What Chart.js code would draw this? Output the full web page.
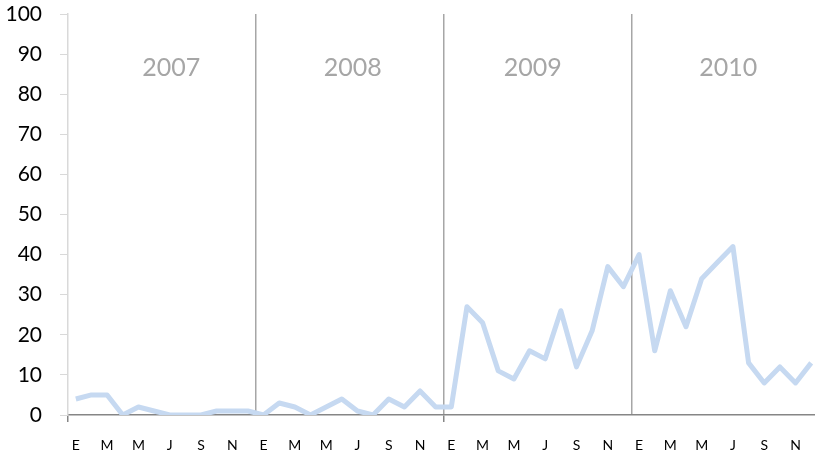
<!DOCTYPE html>
<html>
<head>
<meta charset="utf-8">
<script src="https://cdn.jsdelivr.net/npm/chart.js@4"></script>
<style>
  body { margin: 0; overflow: hidden; background: #fff; }
  canvas { display: block; }
</style>
</head>
<body>
<canvas id="chart" width="819" height="460"></canvas>
<script>
const years = ['2007', '2008', '2009', '2010'];
const months = ['E', 'F', 'M', 'A', 'M', 'J', 'J', 'A', 'S', 'O', 'N', 'D'];
const yTicks = [0, 10, 20, 30, 40, 50, 60, 70, 80, 90, 100];

const values2007 = [4, 5, 5, 0, 2, 1, 0, 0, 0, 1, 1, 1];
const values2008 = [0, 3, 2, 0, 2, 4, 1, 0, 4, 2, 6, 2];
const values2009 = [2, 27, 23, 11, 9, 16, 14, 26, 12, 21, 37, 32];
const values2010 = [40, 16, 31, 22, 34, 38, 42, 13, 8, 12, 8, 13];

const labels = [];
years.forEach(() => months.forEach(m => labels.push(m)));
const values = [].concat(values2007, values2008, values2009, values2010);

// year captions sit roughly mid-year, nudged like the text boxes in the original
const captionShift = [6.1, 5.7, 5.2, 5.7];

const yearLabels = {
  id: 'yearLabels',
  afterDraw(chart) {
    const ctx = chart.ctx;
    const x = chart.scales.x;
    const y = chart.scales.y;
    ctx.save();
    ctx.font = '25px Lato, "Open Sans", sans-serif';
    ctx.fillStyle = '#a6a6a6';
    ctx.textAlign = 'center';
    ctx.textBaseline = 'middle';
    years.forEach((yr, i) => {
      ctx.fillText(yr, x.getPixelForValue(i * 12 + captionShift[i]), y.getPixelForValue(86.5));
    });
    ctx.restore();
  }
};

new Chart(document.getElementById('chart'), {
  type: 'line',
  data: {
    labels: labels,
    datasets: [{
      data: values,
      borderColor: '#c6d9f1',
      borderWidth: 5,
      borderJoinStyle: 'round',
      pointRadius: 0,
      tension: 0,
      fill: false
    }]
  },
  options: {
    responsive: false,
    animation: false,
    layout: { padding: 0 },
    plugins: { legend: { display: false }, tooltip: { enabled: false } },
    scales: {
      x: {
        offset: true,
        border: { color: '#868686', width: 1.5 },
        grid: {
          offset: true,
          lineWidth: 1.5,
          tickLength: 7,
          color: c => (c.index > 0 && c.index % 12 === 0) ? '#a6a6a6' : 'rgba(0,0,0,0)',
          tickColor: c => (c.index % 24 === 0) ? '#868686' : 'rgba(0,0,0,0)'
        },
        ticks: {
          autoSkip: false,
          maxRotation: 0,
          padding: 15,
          color: '#000',
          font: { family: 'Lato, "Open Sans", sans-serif', size: 14 },
          callback: (v, i) => i % 2 === 0 ? labels[i] : ''
        },
        afterFit: axis => {
          axis.height = 45;
          axis.paddingLeft = 0;
          axis.paddingRight = 0;
        }
      },
      y: {
        min: 0,
        max: 100,
        afterBuildTicks: axis => { axis.ticks = yTicks.map(v => ({ value: v })); },
        border: { color: '#d9d9d9', width: 1.5 },
        grid: { drawOnChartArea: false, tickLength: 8, color: '#d9d9d9' },
        ticks: {
          padding: 18,
          color: '#000',
          font: { family: 'Lato, "Open Sans", sans-serif', size: 21 }
        },
        afterFit: axis => {
          axis.width = 68;
          axis.paddingTop = 14;
          axis.paddingBottom = 0;
        }
      }
    }
  },
  plugins: [yearLabels]
});
</script>
</body>
</html>
